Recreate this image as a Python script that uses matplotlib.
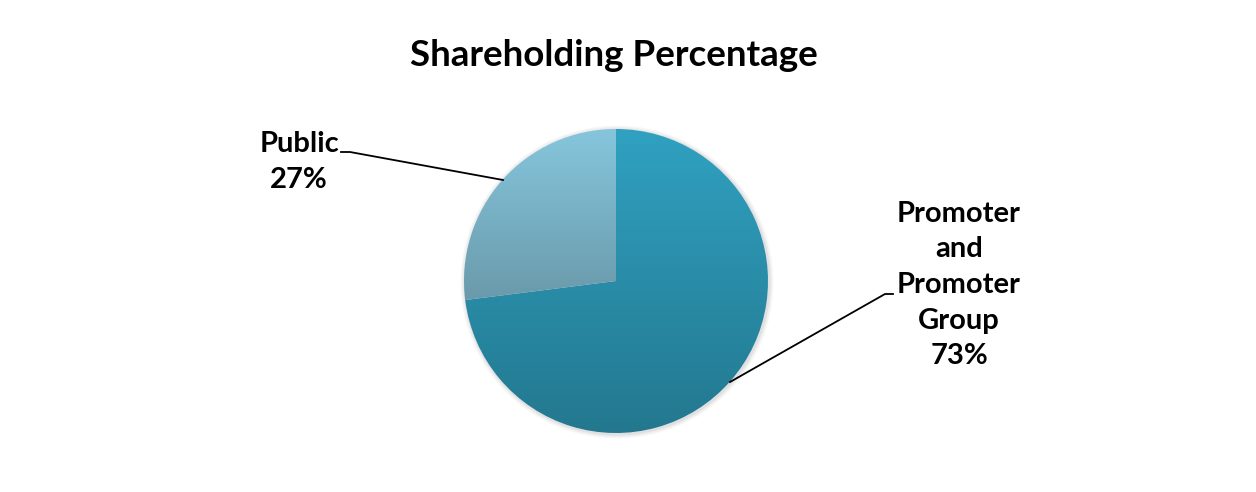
import numpy as np
import matplotlib
matplotlib.use("Agg")
import matplotlib.pyplot as plt
from matplotlib.colors import LinearSegmentedColormap

# ---- data ----
categories = ["Promoter and Promoter Group", "Public"]
label_lines = ["Promoter\nand\nPromoter\nGroup\n73%", "Public\n27%"]
values = [73, 27]
title = "Shareholding Percentage"

top_colors = ["#30A1C1", "#86C6DD"]
bottom_colors = ["#23788F", "#6A9AAB"]

W, H = 1256, 492
plt.rcParams['font.family'] = ['Lato', 'DejaVu Sans']
fig = plt.figure(figsize=(W / 100, H / 100), dpi=100)
ax = fig.add_axes([0, 0, 1, 1])
ax.set_xlim(0, W)
ax.set_ylim(0, H)
ax.set_aspect('equal')
ax.axis('off')

cx, cy, r = 616, H - 281, 152

# soft shadow
for i, a in enumerate([0.05, 0.04, 0.03]):
    sh = plt.Circle((cx + 1, cy - 1), r + 1.5 + i * 1.5, color='black', alpha=a, lw=0, zorder=0)
    ax.add_patch(sh)

wedges, _ = ax.pie(values, center=(cx, cy), radius=r, startangle=90,
                   counterclock=False, frame=True,
                   wedgeprops=dict(linewidth=0, edgecolor='none'))
ax.set_xlim(0, W)
ax.set_ylim(0, H)
ax.axis('off')

for w, ct, cb in zip(wedges, top_colors, bottom_colors):
    ext = w.get_path().get_extents()
    w.set_facecolor('none')
    cmap = LinearSegmentedColormap.from_list('g', [cb, ct])
    grad = np.linspace(0, 1, 256).reshape(-1, 1)
    im = ax.imshow(grad, cmap=cmap, origin='lower', aspect='auto',
                   extent=[ext.x0, ext.x1, ext.y0, ext.y1], zorder=1,
                   interpolation='bilinear')
    im.set_clip_path(w)

ax.set_xlim(0, W)
ax.set_ylim(0, H)

# title
ax.text(614, H - 56, title, ha='center', va='center', fontsize=26.5,
        fontweight='bold', color='black')

# labels
ax.text(959, H - 285, label_lines[0], ha='center', va='center', fontsize=21,
        fontweight='bold', color='black', linespacing=1.46)
ax.text(299, H - 162, label_lines[1], ha='center', va='center', fontsize=21,
        fontweight='bold', color='black', linespacing=1.46)

# leader lines
ax.plot([341, 350, 503], [H - 152, H - 152, H - 180], color='black', lw=1.3, zorder=3)
ax.plot([893, 885, 730], [H - 294, H - 294, H - 382], color='black', lw=1.3, zorder=3)

fig.savefig("out.png", dpi=100, facecolor='white')
